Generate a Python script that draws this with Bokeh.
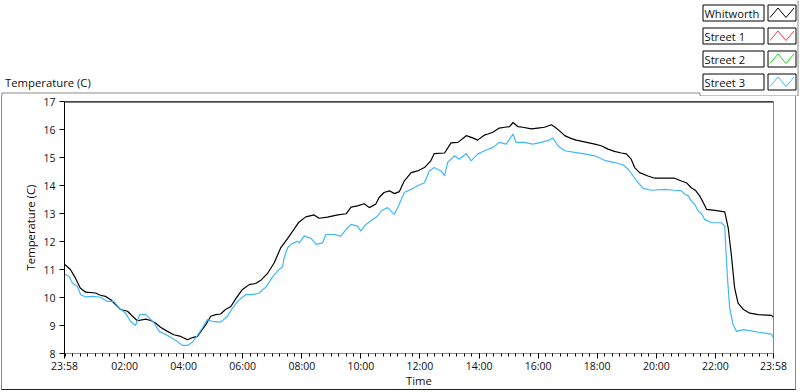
from bokeh.plotting import figure
from bokeh.models import Range1d, FixedTicker, Span
from bokeh.core.properties import value
from bokeh.embed import file_html
from bokeh.resources import INLINE

# ---------------- data (minutes after midnight; -2 = 23:58 of previous day) -------------
whitworth_min = [-2, 10, 20, 30, 41, 61, 71, 81, 92, 102, 112, 126, 136, 146, 163, 173, 183, 193,
                 207, 220, 234, 248, 258, 268, 275, 285, 295, 305, 315, 325, 336, 346, 359, 373,
                 386, 397, 410, 424, 437, 451, 464, 474, 488, 505, 515, 532, 553, 570, 580, 593,
                 607, 617, 630, 637, 647, 658, 668, 678, 688, 702, 715, 729, 742, 749, 770, 783,
                 797, 814, 827, 837, 851, 858, 868, 881, 892, 902, 909, 919, 929, 946, 959, 973,
                 987, 993, 1003, 1014, 1024, 1037, 1054, 1075, 1088, 1102, 1115, 1129, 1139,
                 1149, 1156, 1166, 1183, 1197, 1217, 1237, 1251, 1261, 1271, 1280, 1288, 1295,
                 1302, 1319, 1339, 1346, 1353, 1359, 1366, 1377, 1390, 1407, 1434, 1438]
whitworth_temp = [11.19, 11.00, 10.70, 10.34, 10.19, 10.16, 10.08, 10.04, 9.92, 9.74, 9.57, 9.51,
                  9.33, 9.17, 9.23, 9.18, 9.09, 8.94, 8.79, 8.67, 8.61, 8.49, 8.57, 8.61, 8.79,
                  9.03, 9.33, 9.39, 9.41, 9.57, 9.68, 9.96, 10.28, 10.46, 10.50, 10.62, 10.85,
                  11.24, 11.77, 12.10, 12.43, 12.69, 12.88, 12.95, 12.83, 12.87, 12.95, 12.99,
                  13.23, 13.27, 13.35, 13.21, 13.33, 13.57, 13.75, 13.81, 13.71, 13.78, 14.16,
                  14.46, 14.52, 14.64, 14.88, 15.14, 15.16, 15.52, 15.54, 15.78, 15.70, 15.62,
                  15.80, 15.84, 15.90, 16.05, 16.08, 16.10, 16.25, 16.10, 16.08, 16.02, 16.05,
                  16.08, 16.17, 16.10, 15.96, 15.78, 15.70, 15.62, 15.56, 15.48, 15.42, 15.30,
                  15.22, 15.16, 15.13, 14.94, 14.64, 14.46, 14.34, 14.26, 14.26, 14.26, 14.16,
                  14.10, 13.92, 13.82, 13.63, 13.40, 13.15, 13.11, 13.06, 12.49, 11.42, 10.34,
                  9.80, 9.57, 9.44, 9.39, 9.36, 9.29]

street3_min = [-2, 7, 14, 24, 31, 41, 58, 71, 85, 98, 108, 122, 132, 142, 151, 163, 170, 180, 190,
               200, 214, 227, 237, 248, 258, 268, 278, 288, 298, 315, 329, 339, 353, 366, 380, 393,
               407, 420, 431, 441, 444, 451, 458, 464, 471, 475, 485, 495, 498, 509, 522, 529,
               546, 559, 570, 580, 593, 600, 610, 620, 634, 641, 654, 668, 678, 688, 702, 715,
               729, 739, 749, 763, 770, 776, 790, 800, 814, 824, 837, 851, 868, 881, 895, 909,
               915, 932, 949, 966, 980, 990, 1000, 1014, 1034, 1054, 1075, 1095, 1115, 1132,
               1143, 1153, 1163, 1173, 1190, 1217, 1237, 1251, 1258, 1265, 1271, 1278, 1285,
               1292, 1298, 1312, 1332, 1339, 1341, 1345, 1349, 1356, 1363, 1377, 1393, 1407,
               1420, 1434, 1438]
street3_temp = [10.84, 10.76, 10.52, 10.40, 10.10, 10.02, 10.04, 10.01, 9.86, 9.86, 9.65, 9.44,
                9.15, 9.00, 9.39, 9.39, 9.27, 9.09, 8.79, 8.71, 8.57, 8.43, 8.29, 8.29, 8.41, 8.65,
                8.91, 9.21, 9.15, 9.12, 9.33, 9.62, 9.92, 10.10, 10.10, 10.16, 10.37, 10.72,
                10.96, 11.10, 11.42, 11.77, 11.90, 11.95, 12.01, 11.95, 12.20, 12.13, 12.13,
                11.90, 11.95, 12.25, 12.25, 12.19, 12.43, 12.61, 12.55, 12.37, 12.61, 12.73,
                12.91, 13.09, 13.21, 12.97, 13.33, 13.75, 13.86, 13.99, 14.10, 14.52, 14.64,
                14.52, 14.34, 14.82, 15.06, 14.94, 15.14, 14.88, 15.12, 15.24, 15.36, 15.54,
                15.48, 15.84, 15.54, 15.54, 15.48, 15.54, 15.60, 15.70, 15.42, 15.24, 15.18,
                15.13, 15.06, 14.90, 14.82, 14.74, 14.58, 14.34, 14.10, 13.90, 13.83, 13.86,
                13.83, 13.81, 13.69, 13.63, 13.45, 13.33, 13.09, 12.99, 12.79, 12.67, 12.67,
                12.55, 11.77, 10.58, 9.62, 9.03, 8.79, 8.85, 8.81, 8.76, 8.73, 8.69, 8.55]

series_names = ["Whitworth", "Street 1", "Street 2", "Street 3"]
series_colors = ["#000000", "#ff3c3c", "#18d818", "#40b8f6"]

x_tick_minutes = [-2, 120, 240, 360, 480, 600, 720, 840, 960, 1080, 1200, 1320, 1438]
x_tick_labels = ["23:58", "02:00", "04:00", "06:00", "08:00", "10:00", "12:00", "14:00",
                 "16:00", "18:00", "20:00", "22:00", "23:58"]
x_minor_minutes = list(range(0, 1440, 15))
y_ticks = [8, 9, 10, 11, 12, 13, 14, 15, 16, 17]
x_title = "Time"
y_title = "Temperature (C)"

FONT = "Open Sans"
GRAY = "#8a8a8a"
INK = "#111111"

# ---------------- header strip: graph label + legend (pixel space) ----------------
hdr = figure(width=800, height=96, output_backend="svg", toolbar_location=None,
             x_range=Range1d(0, 800), y_range=Range1d(96, 0),
             x_axis_type=None, y_axis_type=None, min_border=0,
             outline_line_color=None, background_fill_color="white",
             border_fill_color="white")
hdr.grid.visible = False
hdr.text(x=[4.5], y=[82], text=[y_title], text_font=value(FONT),
         text_font_size="11.3px", text_color=INK, text_baseline="middle", text_align="left")
hdr.segment(x0=[797.5, 1, 699.5, 699.5, 1.5], y0=[0, 92.5, 92.5, 95.5, 92.5],
            x1=[797.5, 699.5, 699.5, 798, 1.5], y1=[96, 92.5, 95.5, 95.5, 96],
            line_color=GRAY, line_width=1)

row_tops = [4.5, 27.5, 50.5, 73.5]
box_l, box_r, ico_l, ico_r = 702.5, 763.5, 767.5, 795.5
hdr.quad(left=[box_l] * 4, right=[box_r] * 4, top=row_tops, bottom=[t + 16 for t in row_tops],
         fill_color="white", line_color="black", line_width=1)
hdr.quad(left=[ico_l] * 4, right=[ico_r] * 4, top=row_tops, bottom=[t + 16 for t in row_tops],
         fill_color="white", line_color="black", line_width=1)
hdr.text(x=[box_l + 1.5] * 4, y=[t + 8 for t in row_tops], text=series_names,
         text_font=value(FONT), text_font_size="11.2px", text_color=INK,
         text_baseline="middle", text_align="left")
zig_dx = [2, 10, 18, 26]
zig_dy = [12.5, 3, 12.5, 3]
hdr.multi_line(xs=[[ico_l + d for d in zig_dx] for _ in row_tops],
               ys=[[t + d for d in zig_dy] for t in row_tops],
               line_color=series_colors, line_width=1)

# ---------------- main graph ----------------
p = figure(width=795, height=294, output_backend="svg", toolbar_location=None,
           x_range=Range1d(-2, 1438), y_range=Range1d(8, 17),
           min_border_left=62, min_border_right=24, min_border_top=5, min_border_bottom=37,
           background_fill_color="white", border_fill_color="white",
           outline_line_color=GRAY, outline_line_width=1)
p.styles = {"margin-left": "1px", "border-left": "1px solid " + GRAY,
            "border-right": "1px solid " + GRAY, "border-bottom": "1px solid #222222"}
p.grid.visible = False

xa = p.xaxis[0]
xa.ticker = FixedTicker(ticks=x_tick_minutes, minor_ticks=x_minor_minutes)
xa.major_label_overrides = {t: l for t, l in zip(x_tick_minutes, x_tick_labels)}
xa.axis_line_color = GRAY
xa.major_tick_line_color = "black"
xa.minor_tick_line_color = "black"
xa.major_tick_out = 5
xa.major_tick_in = 0
xa.minor_tick_out = 3
xa.minor_tick_in = 0
xa.major_label_standoff = 0
xa.major_label_text_font = FONT
xa.major_label_text_font_size = "10.5px"
xa.major_label_text_color = INK
xa.axis_label = x_title
xa.axis_label_standoff = -3
xa.axis_label_text_font = FONT
xa.axis_label_text_font_size = "11.3px"
xa.axis_label_text_font_style = "normal"
xa.axis_label_text_color = INK

ya = p.yaxis[0]
ya.ticker = FixedTicker(ticks=y_ticks, minor_ticks=[])
ya.axis_line_color = "black"
ya.major_tick_line_color = "black"
ya.major_tick_out = 5
ya.major_tick_in = 0
ya.minor_tick_line_color = None
ya.major_label_standoff = 4
ya.major_label_text_font = FONT
ya.major_label_text_font_size = "10.5px"
ya.major_label_text_color = INK
ya.axis_label = y_title
ya.axis_label_standoff = 2
ya.axis_label_text_font = FONT
ya.axis_label_text_font_size = "11.3px"
ya.axis_label_text_font_style = "normal"
ya.axis_label_text_color = "#220000"

# black top edge of the plot area
p.add_layout(Span(location=17, dimension="width", line_color="black", line_width=2))

p.line(whitworth_min, whitworth_temp, line_color=series_colors[0], line_width=1.2)
p.line(street3_min, street3_temp, line_color=series_colors[3], line_width=1.2)

open("out.html", "w").write(file_html([hdr, p], INLINE))
